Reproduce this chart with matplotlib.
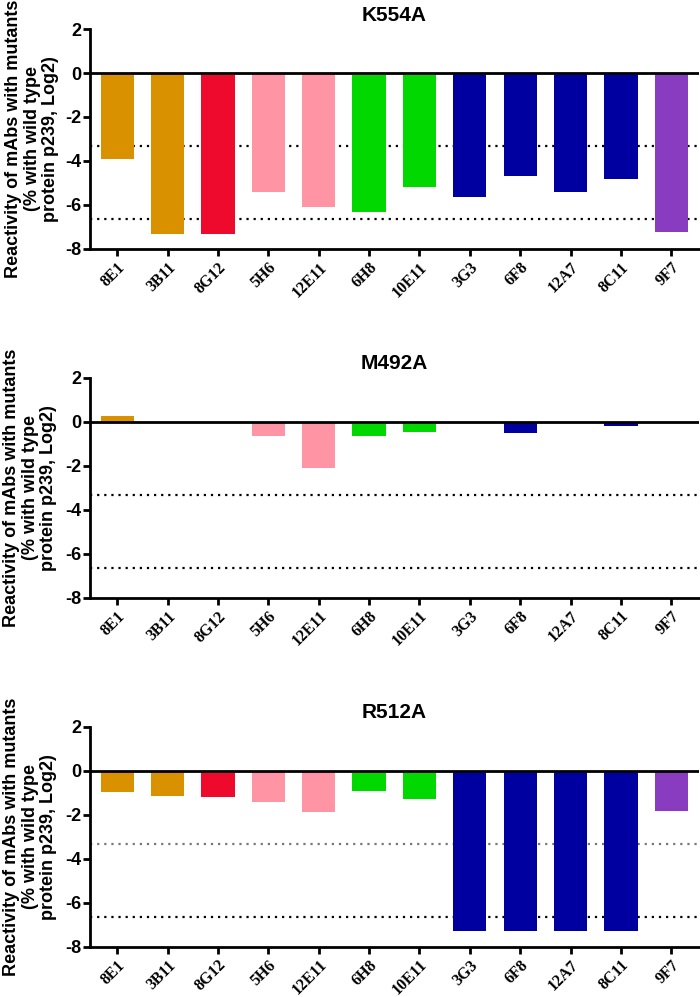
import matplotlib
matplotlib.use('Agg')
import matplotlib.pyplot as plt

plt.rcParams['axes.unicode_minus'] = False

mabs = ['8E1', '3B11', '8G12', '5H6', '12E11', '6H8', '10E11',
        '3G3', '6F8', '12A7', '8C11', '9F7']
bar_colors = ['#DA9100', '#DA9100', '#EE0A2C', '#FF94A5', '#FF94A5',
              '#00D800', '#00D800', '#0000A0', '#0000A0', '#0000A0',
              '#0000A0', '#8A3CC0']

k554a = [-3.9, -7.3, -7.3, -5.4, -6.1, -6.3, -5.2, -5.65, -4.7, -5.4, -4.8, -7.25]
m492a = [0.25, 0, 0, -0.65, -2.1, -0.65, -0.48, 0, -0.5, -0.07, -0.18, 0]
r512a = [-0.97, -1.14, -1.18, -1.43, -1.9, -0.91, -1.27, -7.3, -7.3, -7.3, -7.3, -1.82]

cutoffs = [-3.32, -6.64]   # log2(10%) and log2(1%)

ylabel = 'Reactivity of mAbs with mutants\n(% with wild type\nprotein p239, Log2)'


def draw_panel(fig, rect, title, values, label_x, cut_colors):
    ax = fig.add_axes(rect)
    x = range(len(mabs))
    ax.bar(x, values, width=0.66, color=bar_colors, zorder=2)
    ax.axhline(0, color='black', lw=2, zorder=3)
    for c, col in zip(cutoffs, cut_colors):
        ax.axhline(c, color=col, lw=1.6, ls=(0, (1, 2.2)), zorder=1)
    ax.set_xlim(-0.54, 11.55)
    ax.set_ylim(-8, 2)
    ax.set_yticks([-8, -6, -4, -2, 0, 2])
    ax.set_xticks(list(x))
    ax.set_xticklabels(mabs, rotation=45, ha='right', rotation_mode='anchor',
                       family='Liberation Serif', fontweight='bold', fontsize=11.5)
    for lab in ax.get_yticklabels():
        lab.set_family('Liberation Sans')
        lab.set_fontweight('bold')
        lab.set_fontsize(13)
    ax.spines['top'].set_visible(False)
    ax.spines['right'].set_visible(False)
    ax.spines['left'].set_linewidth(2)
    ax.spines['bottom'].set_linewidth(2)
    ax.tick_params(axis='both', width=2, length=5, direction='out')
    ax.tick_params(axis='x', pad=2.5)
    ax.tick_params(axis='y', pad=1)
    ax.set_title(title, family='Liberation Sans', fontweight='bold',
                 fontsize=15, pad=6)
    fig.text(label_x, rect[1] + rect[3] / 2, ylabel, rotation=90,
             ha='center', va='center', family='Liberation Sans',
             fontweight='bold', fontsize=13, linespacing=1.12)
    return ax


fig = plt.figure(figsize=(7, 9.97), dpi=100)

draw_panel(fig, [0.1286, 0.7503, 0.870, 0.2206], 'K554A', k554a, 0.046,
           ['black', 'black'])
draw_panel(fig, [0.1286, 0.4005, 0.870, 0.2207], 'M492A', m492a, 0.043,
           ['black', 'black'])
draw_panel(fig, [0.1286, 0.0505, 0.870, 0.2206], 'R512A', r512a, 0.043,
           ['#777777', 'black'])

fig.savefig('out.png', dpi=100)
